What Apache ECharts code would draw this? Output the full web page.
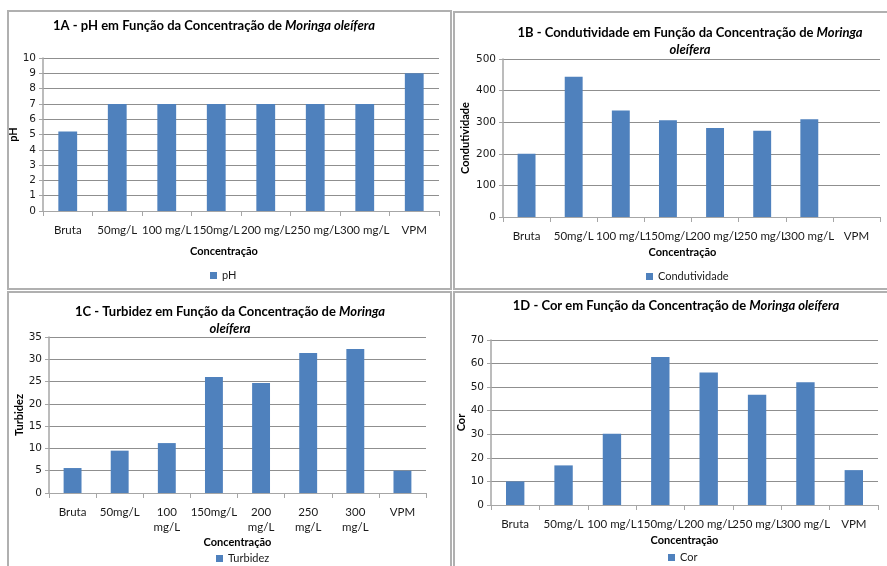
<!DOCTYPE html>
<html>
<head>
<meta charset="utf-8">
<script src="https://cdn.jsdelivr.net/npm/echarts@6/dist/echarts.min.js"></script>
<style>
  html, body { margin: 0; padding: 0; background: #ffffff; }
  #chart { width: 887px; height: 566px; }
</style>
</head>
<body>
<div id="chart"></div>
<script>
// Moringa oleifera dosage study: four water-quality parameters per concentration
const categories = ['Bruta', '50mg/L', '100 mg/L', '150mg/L', '200 mg/L', '250 mg/L', '300 mg/L', 'VPM'];
const phValues = [5.2, 7, 7, 7, 7, 7, 7, 9];
const condutividadeValues = [200, 444, 337, 306, 282, 273, 309, null];
const turbidezValues = [5.6, 9.5, 11.2, 26, 24.7, 31.4, 32.3, 5];
const corValues = [10, 16.8, 30.2, 62.8, 56.2, 46.8, 52.1, 14.8];

// y-axis ranges: [max, interval]
const phAxis = [10, 1];
const condutividadeAxis = [500, 100];
const turbidezAxis = [35, 5];
const corAxis = [70, 10];

const BAR = '#4f81bd';
const GRID_LINE = '#8f8f8f';
const AXIS_LINE = '#a6a6a6';
const FONT = 'Lato, "Open Sans", sans-serif';

const panels = [
  { title: '{b|1A - pH em Função da Concentração de }{i|Moringa oleífera}', tx: 214, ty: 17,
    grid: { left: 43, right: 448, top: 58, bottom: 355 }, name: 'pH', data: phValues, axis: phAxis,
    yGap: 18, xNameGap: 35, xNamePad: [0, 34, 0, 0], legend: { left: 210, top: 270 }, wrap: false },
  { title: '{b|1B - Condutividade em Função da Concentração de }{i|Moringa}\n{i|oleífera}', tx: 690, ty: 24,
    grid: { left: 503, right: 7, top: 59, bottom: 349 }, name: 'Condutividade', data: condutividadeValues, axis: condutividadeAxis,
    yGap: 32, xNameGap: 30, xNamePad: [0, 18, 0, 0], legend: { left: 646, top: 271 }, wrap: false },
  { title: '{b|1C - Turbidez em Função da Concentração de }{i|Moringa}\n{i|oleífera}', tx: 230, ty: 303,
    grid: { left: 49, right: 461, top: 337, bottom: 73 }, name: 'Turbidez', data: turbidezValues, axis: turbidezAxis,
    yGap: 23, xNameGap: 44, xNamePad: [0, 0, 0, 0], legend: { left: 216, top: 553 }, wrap: true },
  { title: '{b|1D - Cor em Função da Concentração de }{i|Moringa oleífera}', tx: 676, ty: 297,
    grid: { left: 491, right: 9, top: 340, bottom: 61 }, name: 'Cor', data: corValues, axis: corAxis,
    yGap: 19, xNameGap: 30, xNamePad: [0, 0, 0, 0], legend: { left: 668, top: 552 }, wrap: false }
];

const titleRich = {
  b: { fontFamily: FONT, fontWeight: 'bold', fontSize: 13, color: '#000', lineHeight: 17 },
  i: { fontFamily: FONT, fontWeight: 'bold', fontStyle: 'italic', fontSize: 13, color: '#000', lineHeight: 17 }
};

const option = {
  backgroundColor: '#ffffff',
  animation: false,
  title: panels.map(p => ({
    text: p.title, left: p.tx, top: p.ty, textAlign: 'center', padding: 0,
    textStyle: { rich: titleRich, fontFamily: FONT }
  })),
  legend: panels.map((p, i) => ({
    data: [p.name], left: p.legend.left, top: p.legend.top, padding: 0,
    itemWidth: 7, itemHeight: 7, icon: 'rect',
    textStyle: { fontFamily: FONT, fontSize: 11, color: '#1a1a1a' }
  })),
  grid: panels.map(p => Object.assign({ containLabel: false }, p.grid)),
  xAxis: panels.map((p, i) => ({
    type: 'category', gridIndex: i, data: categories, boundaryGap: true,
    name: 'Concentração', nameLocation: 'middle', nameGap: p.xNameGap,
    nameTextStyle: { fontFamily: FONT, fontWeight: 'bold', fontSize: 11, color: '#000', padding: p.xNamePad },
    axisLine: { lineStyle: { color: AXIS_LINE, width: 1 } },
    axisTick: { show: true, length: 5, lineStyle: { color: AXIS_LINE } },
    axisLabel: {
      interval: 0, margin: 12, fontFamily: FONT, fontSize: 11.5, color: '#1a1a1a', lineHeight: 15,
      formatter: p.wrap ? (v => v.replace(' ', '\n')) : (v => v)
    }
  })),
  yAxis: panels.map((p, i) => ({
    type: 'value', gridIndex: i, min: 0, max: p.axis[0], interval: p.axis[1],
    name: p.name, nameLocation: 'middle', nameGap: p.yGap,
    nameTextStyle: { fontFamily: FONT, fontWeight: 'bold', fontSize: 11, color: '#000' },
    axisLine: { show: true, lineStyle: { color: AXIS_LINE, width: 1.5 } },
    axisTick: { show: true, length: 4, lineStyle: { color: AXIS_LINE } },
    axisLabel: { margin: 7, fontFamily: '"DejaVu Sans", sans-serif', fontSize: 10.5, color: '#1a1a1a' },
    splitLine: { show: true, lineStyle: { color: GRID_LINE, width: 1 } }
  })),
  series: panels.map((p, i) => ({
    type: 'bar', name: p.name, xAxisIndex: i, yAxisIndex: i, data: p.data,
    barWidth: '38%', itemStyle: { color: BAR }
  })),
  graphic: [
    { type: 'rect', shape: { x: 8, y: 11, width: 443, height: 278 }, style: { fill: 'none', stroke: '#b0b0b0', lineWidth: 2 }, z: -1 },
    { type: 'rect', shape: { x: 454, y: 12, width: 440, height: 277 }, style: { fill: 'none', stroke: '#b0b0b0', lineWidth: 2 }, z: -1 },
    { type: 'rect', shape: { x: 8, y: 292, width: 443, height: 290 }, style: { fill: 'none', stroke: '#b0b0b0', lineWidth: 2 }, z: -1 },
    { type: 'rect', shape: { x: 454, y: 292, width: 440, height: 290 }, style: { fill: 'none', stroke: '#b0b0b0', lineWidth: 2 }, z: -1 }
  ]
};

const chart = echarts.init(document.getElementById('chart'), null, { renderer: 'canvas' });
chart.setOption(option);
</script>
</body>
</html>
